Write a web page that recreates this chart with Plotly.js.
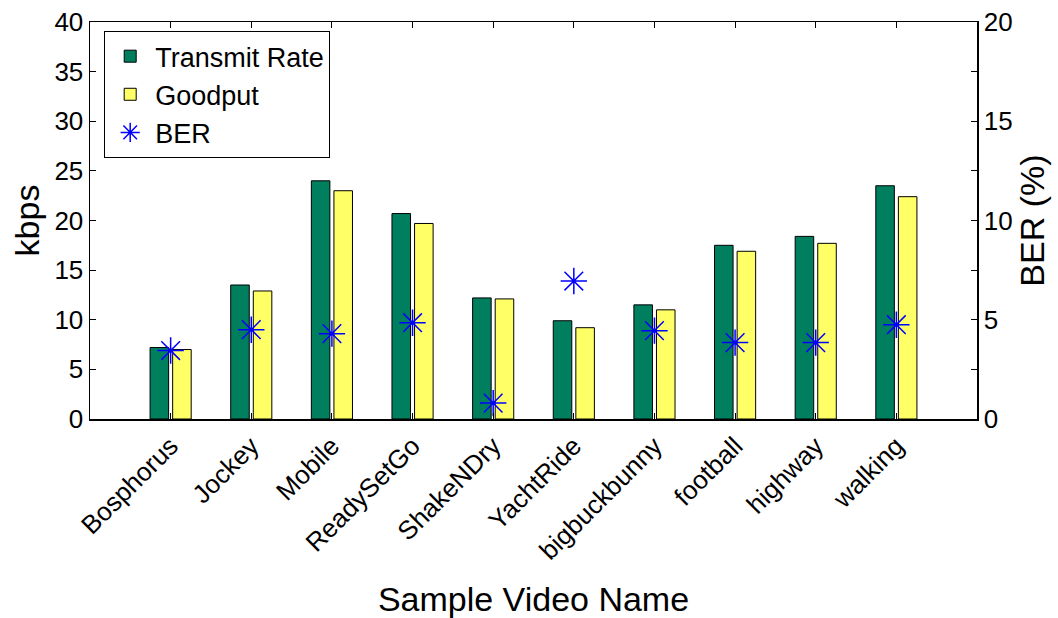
<!DOCTYPE html>
<html>
<head>
<meta charset="utf-8">
<script src="https://cdn.plot.ly/plotly-3.0.1.min.js"></script>
<style>html,body{margin:0;padding:0;background:#fff;}#chart{width:1058px;height:618px;}</style>
</head>
<body>
<div id="chart"></div>
<script>
const categories = ["Bosphorus","Jockey","Mobile","ReadySetGo","ShakeNDry","YachtRide","bigbuckbunny","football","highway","walking"];
const transmitRate = [7.2, 13.5, 24.0, 20.7, 12.2, 9.9, 11.5, 17.5, 18.4, 23.5];
const goodput = [7.0, 12.9, 23.0, 19.7, 12.1, 9.2, 11.0, 16.9, 17.7, 22.4];
const ber = [3.45, 4.5, 4.3, 4.85, 0.8, 6.95, 4.45, 3.85, 3.85, 4.75];
const leftTicks = [0,5,10,15,20,25,30,35,40];
const rightTickVals = [0,2.5,5,7.5,10,12.5,15,17.5,20];
const rightTickText = ["0","","5","","10","","15","","20"];

const xpos = categories.map((c,i)=>i+1);
const font = "Liberation Sans, Arial, Helvetica, sans-serif";

const traces = [
  {type:"bar", name:"Transmit Rate", x:xpos, y:transmitRate, width:0.23, offset:-0.255,
   marker:{color:"#007F5F", line:{color:"#000", width:1}}},
  {type:"bar", name:"Goodput", x:xpos, y:goodput, width:0.23, offset:0.025,
   marker:{color:"#FFFF66", line:{color:"#000", width:1}}},
  {type:"scatter", mode:"markers", name:"BER", x:xpos, y:ber, yaxis:"y2",
   marker:{symbol:"asterisk-open", size:22, color:"#0000FF", line:{color:"#0000FF", width:1.5}}}
];

const layout = {
  width:1058, height:618,
  margin:{l:90, r:81, t:22, b:199},
  paper_bgcolor:"#fff", plot_bgcolor:"#fff",
  font:{family:font, size:26, color:"#000"},
  barmode:"overlay",
  showlegend:true,
  legend:{x:0.016, y:0.977, xanchor:"left", yanchor:"top", bgcolor:"#fff",
          bordercolor:"#000", borderwidth:1, font:{size:27}, tracegroupgap:0, itemwidth:40},
  xaxis:{range:[0,11], tickvals:xpos, ticktext:categories, tickangle:-45,
         showgrid:false, zeroline:false, showline:true, linecolor:"#000", linewidth:1.5, mirror:"ticks",
         ticks:"inside", ticklen:6, tickcolor:"#000", tickfont:{size:26},
         title:{text:"Sample Video Name", font:{size:34}, standoff:22}, automargin:false},
  yaxis:{range:[0,40], tickvals:leftTicks, showgrid:false, zeroline:false, showline:true,
         linecolor:"#000", linewidth:1.5, ticks:"inside", ticklen:6, tickcolor:"#000",
         tickfont:{size:26}, title:{text:"kbps", font:{size:34}, standoff:4}, automargin:false},
  yaxis2:{range:[0,20], overlaying:"y", side:"right", tickvals:rightTickVals, ticktext:rightTickText,
          showgrid:false, zeroline:false, showline:true, linecolor:"#000", linewidth:1.5,
          ticks:"inside", ticklen:6, tickcolor:"#000", tickfont:{size:26},
          title:{text:"BER (%)", font:{size:34}, standoff:4}, automargin:false}
};

Plotly.newPlot("chart", traces, layout, {displayModeBar:false, staticPlot:true});
</script>
</body>
</html>
